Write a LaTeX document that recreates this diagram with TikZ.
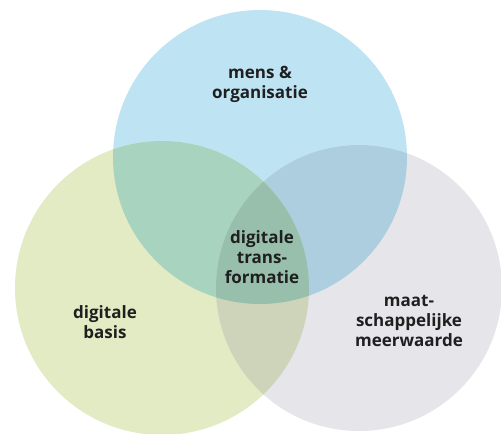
\documentclass[tikz,border=0pt]{standalone}
\usepackage{fontspec}
\setmainfont{Open Sans}
\begin{document}
\begin{tikzpicture}[x=1pt,y=-1pt,
  lbl/.style={align=center,font=\fontsize{17}{20}\selectfont\bfseries,text=black!88,inner sep=0pt}]
\definecolor{cblue}{RGB}{190,228,244}
\definecolor{cgreen}{RGB}{226,235,196}
\definecolor{cgray}{RGB}{229,229,234}
\definecolor{cbg}{RGB}{168,211,190}
\definecolor{cbr}{RGB}{172,206,223}
\definecolor{cgr}{RGB}{205,212,186}
\definecolor{call}{RGB}{152,190,172}
\useasboundingbox (0,0) rectangle (501,434);
\fill[white] (0,0) rectangle (501,434);
\coordinate (B) at (260,157);
\coordinate (G) at (162,288);
\coordinate (R) at (359,288);
\def\rb{147}\def\rg{147}\def\rr{143}
\fill[cblue] (B) circle (\rb);
\fill[cgreen] (G) circle (\rg);
\fill[cgray] (R) circle (\rr);
\begin{scope}\clip (B) circle (\rb); \fill[cbg] (G) circle (\rg); \end{scope}
\begin{scope}\clip (B) circle (\rb); \fill[cbr] (R) circle (\rr); \end{scope}
\begin{scope}\clip (G) circle (\rg); \fill[cgr] (R) circle (\rr); \end{scope}
\begin{scope}\clip (B) circle (\rb); \clip (G) circle (\rg); \fill[call] (R) circle (\rr); \end{scope}
\node[lbl] (mens) at (260,84) {mens \&\\organisatie};
\node[lbl] (dt) at (262,257) {digitale\\trans-\\formatie};
\node[lbl] (db) at (105,322) {digitale\\basis};
\node[lbl] (mm) at (409,321) {maat-\\schappelijke\\meerwaarde};
\end{tikzpicture}
\end{document}
